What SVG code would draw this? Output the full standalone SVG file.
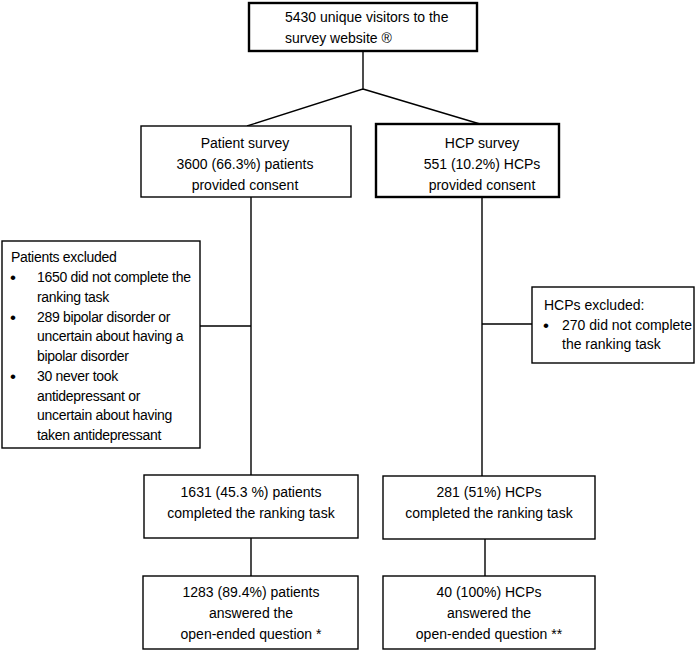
<svg xmlns="http://www.w3.org/2000/svg" width="696" height="651" viewBox="0 0 696 651">
<style>
.box{fill:#fff;stroke:#000;stroke-width:1.4}
.thick{stroke-width:2.4}
text{font-family:"Liberation Sans",Arial,sans-serif;font-size:14px;fill:#000}
.c{text-anchor:middle}
.b{font-size:17px}
.tight text{letter-spacing:-0.3px}
.ln{stroke:#000;stroke-width:1.4;fill:none}
</style>
<rect width="696" height="651" fill="#fff"/>
<g id="connectors">
<path class="ln" d="M363 51 V89 L247 126 M363 89 L480 124"/>
<path class="ln" d="M251 197 V475 M200 326 H251"/>
<path class="ln" d="M482 197 V476 M482 324 H532"/>
<path class="ln" d="M251 538 V576 M485 539 V576"/>
</g>
<g id="visitors">
<rect class="box thick" x="249" y="3" width="228" height="48"/>
<text x="285" y="22">5430 unique visitors to the</text>
<text x="285" y="43">survey website ®</text>
</g>
<g id="patient-survey">
<rect class="box" x="141" y="126" width="210" height="71"/>
<text class="c" x="245" y="148">Patient survey</text>
<text class="c" x="245" y="169">3600 (66.3%) patients</text>
<text class="c" x="245" y="190">provided consent</text>
</g>
<g id="hcp-survey">
<rect class="box thick" x="376" y="124" width="183" height="73"/>
<text class="c" x="482" y="148">HCP survey</text>
<text class="c" x="482" y="169">551 (10.2%) HCPs</text>
<text class="c" x="482" y="190">provided consent</text>
</g>
<g id="patients-excluded" class="tight">
<rect class="box" x="2" y="241" width="198" height="207"/>
<text x="11" y="262">Patients excluded</text>
<text class="b" x="10" y="283">•</text><text x="37" y="282">1650 did not complete the</text>
<text x="37" y="302">ranking task</text>
<text class="b" x="10" y="323">•</text><text x="37" y="322">289 bipolar disorder or</text>
<text x="37" y="341">uncertain about having a</text>
<text x="37" y="361">bipolar disorder</text>
<text class="b" x="10" y="382">•</text><text x="37" y="381">30 never took</text>
<text x="37" y="401">antidepressant or</text>
<text x="37" y="420">uncertain about having</text>
<text x="37" y="440">taken antidepressant</text>
</g>
<g id="hcps-excluded">
<rect class="box" x="532" y="287" width="162" height="76"/>
<text x="544" y="310">HCPs excluded:</text>
<text class="b" x="543" y="331">•</text><text x="562" y="330">270 did not complete</text>
<text x="562" y="349">the ranking task</text>
</g>
<g id="patients-completed">
<rect class="box" x="144" y="475" width="214" height="63"/>
<text class="c" x="251" y="497">1631 (45.3 %) patients</text>
<text class="c" x="251" y="518">completed the ranking task</text>
</g>
<g id="hcps-completed">
<rect class="box" x="383" y="476" width="212" height="63"/>
<text class="c" x="489" y="497">281 (51%) HCPs</text>
<text class="c" x="489" y="518">completed the ranking task</text>
</g>
<g id="patients-answered">
<rect class="box" x="143" y="576" width="215" height="73"/>
<text class="c" x="251" y="597">1283 (89.4%) patients</text>
<text class="c" x="251" y="618">answered the</text>
<text class="c" x="251" y="639">open-ended question *</text>
</g>
<g id="hcps-answered">
<rect class="box" x="383" y="576" width="212" height="73"/>
<text class="c" x="489" y="597">40 (100%) HCPs</text>
<text class="c" x="489" y="618">answered the</text>
<text class="c" x="489" y="639">open-ended question **</text>
</g>
</svg>
